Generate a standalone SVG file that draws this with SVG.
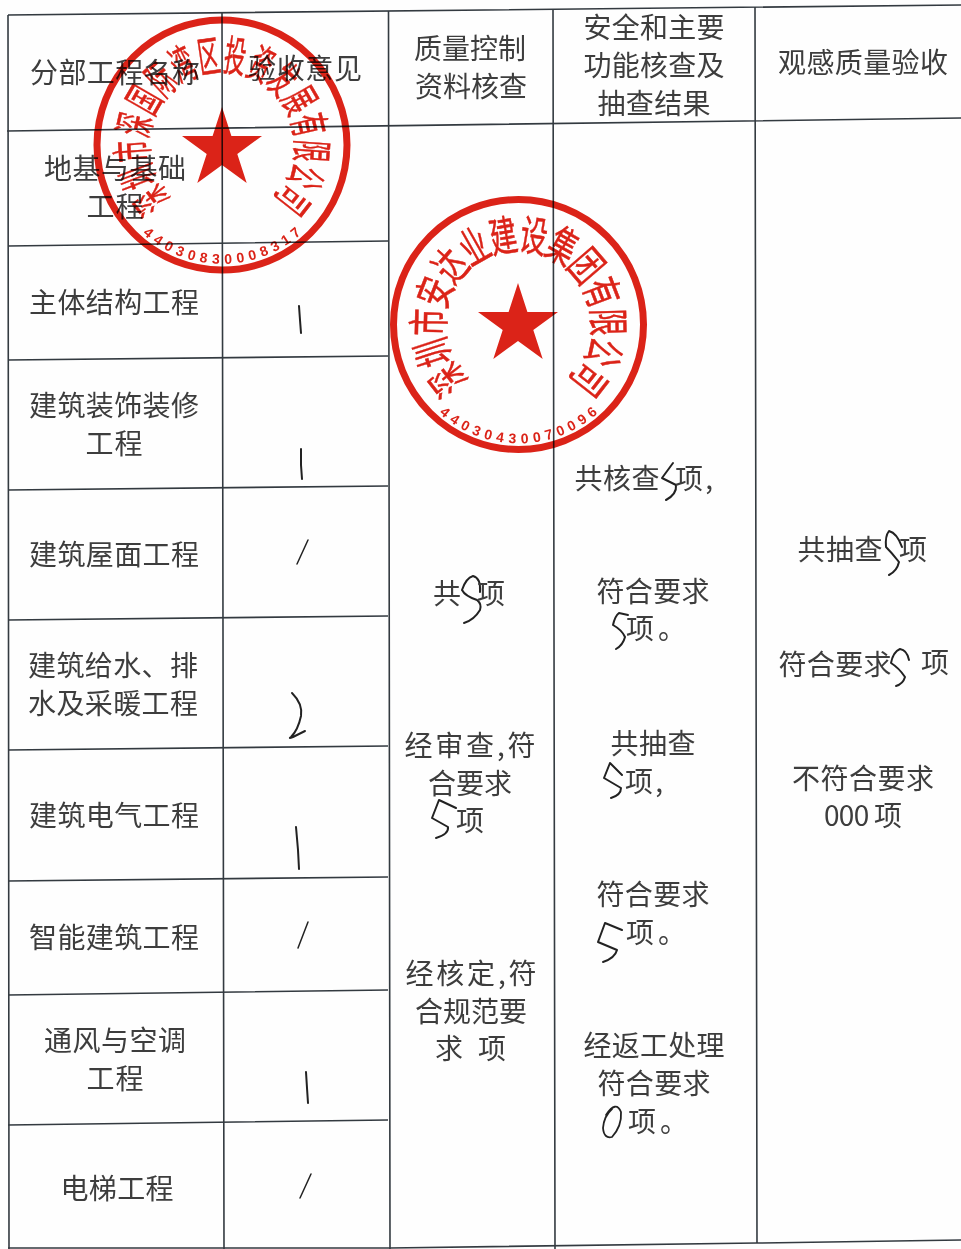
<svg xmlns="http://www.w3.org/2000/svg" width="961" height="1249" viewBox="0 0 961 1249">
<style>
.l{stroke:#333a40;stroke-width:1.6;fill:none}
.t{font-family:"Noto Sans CJK SC","Noto Sans",sans-serif;font-size:28px;fill:#3d3d3d;text-anchor:middle;font-weight:400;transform:translateY(1px)}
.s{text-anchor:start}
.h{stroke:#222;stroke-width:2;fill:none;stroke-linecap:round;stroke-linejoin:round}
.seal{mix-blend-mode:multiply}
.ring{fill:none;stroke:#dc2318;stroke-width:7}
.star{fill:#dc2318}
.g{font-family:"Noto Sans CJK SC",sans-serif;font-size:32px;fill:#dc2318;stroke:#dc2318;stroke-width:.4;text-anchor:middle}
.d{font-family:"Liberation Sans",sans-serif;font-size:14px;font-weight:bold;fill:#dc2318;text-anchor:middle}
</style>
<rect width="961" height="1249" fill="#fefefe"/>
<g id="table-lines">
<path class="l" d="M8 15L961 5M7 131L961 118M8 246L388 241M8 360L388 356M8 490L388 486M8 620L388 616M8 750L388 746M8 881L388 877M8 995L388 990M8 1125L388 1120M8 1248L390 1248L757 1243L961 1240"/>
<path class="l" d="M8 15L9 1249M222 13L224 1249M388.500 11L390 1249M553 10L555 1249M755 7L757 1243"/>
</g>
<g id="header">
<text class="t" x="115" y="82" textLength="170">分部工程名称</text>
<text class="t" x="305" y="78" textLength="114">验收意见</text>
<text class="t" x="470" y="58" textLength="112">质量控制</text>
<text class="t" x="471" y="96" textLength="112">资料核查</text>
<text class="t" x="654" y="37" textLength="141">安全和主要</text>
<text class="t" x="654" y="75" textLength="141">功能核查及</text>
<text class="t" x="654" y="113" textLength="113">抽查结果</text>
<text class="t" x="863" y="72" textLength="170">观感质量验收</text>
</g>
<g id="col-names">
<text class="t" x="115" y="178" textLength="142">地基与基础</text>
<text class="t" x="115" y="216" textLength="57">工程</text>
<text class="t" x="114" y="312" textLength="170">主体结构工程</text>
<text class="t" x="114" y="415" textLength="170">建筑装饰装修</text>
<text class="t" x="114" y="453" textLength="57">工程</text>
<text class="t" x="114" y="564" textLength="170">建筑屋面工程</text>
<text class="t" x="113" y="675" textLength="170">建筑给水、排</text>
<text class="t" x="113" y="713" textLength="170">水及采暖工程</text>
<text class="t" x="114" y="825" textLength="170">建筑电气工程</text>
<text class="t" x="114" y="947" textLength="170">智能建筑工程</text>
<text class="t" x="115" y="1050" textLength="142">通风与空调</text>
<text class="t" x="115" y="1088" textLength="57">工程</text>
<text class="t" x="117" y="1198" textLength="113">电梯工程</text>
</g>
<g id="col-opinion">
<path class="h" d="M299 306L300 320L301 333"/>
<path class="h" d="M301 449L301 465L302 479"/>
<path class="h" style="stroke-width:1.5" d="M308 540L297 564"/>
<path class="h" d="M292 693Q303 704 301 716Q298 730 291 737Q288 739 293 737L305 731"/>
<path class="h" d="M296 827L298 850L299 869"/>
<path class="h" style="stroke-width:1.5" d="M308 922L298 948"/>
<path class="h" d="M306 1072L307 1088L308 1103"/>
<path class="h" style="stroke-width:1.5" d="M311 1174L300 1198"/>
</g>
<g id="col-quality">
<text class="t" x="447" y="603">共</text>
<path class="h" d="M480 592Q481 578 473 576Q466 578 462 590Q465 596 477 600Q482 604 480 610Q474 620 464 623"/>
<text class="t" x="491" y="603">项</text>
<text class="t" x="470" y="755" textLength="131">经审查,符</text>
<text class="t" x="470" y="793" textLength="84">合要求</text>
<path class="h" d="M456 808L439 800L432 818L448 827Q449 834 436 838"/>
<text class="t" x="470" y="830">项</text>
<text class="t" x="471" y="983" textLength="131">经核定,符</text>
<text class="t" x="471" y="1021" textLength="112">合规范要</text>
<text class="t" x="449" y="1058">求</text>
<text class="t" x="492" y="1058">项</text>
</g>
<g id="col-safety">
<text class="t" x="617" y="488" textLength="85">共核查</text>
<path class="h" d="M673 463L662 478L676 485Q677 494 666 500"/>
<text class="t" x="694" y="488" textLength="38">项,</text>
<text class="t" x="653" y="601" textLength="113">符合要求</text>
<path class="h" d="M628 615L619 613Q615 616 613 625Q622 630 625 637Q623 645 616 649"/>
<text class="t s" x="626" y="638">项<tspan dx="4">。</tspan></text>
<text class="t" x="653" y="753" textLength="85">共抽查</text>
<path class="h" d="M622 775L610 763L604 778L621 788Q621 795 611 798"/>
<text class="t" x="644" y="791" textLength="38">项,</text>
<text class="t" x="653" y="904" textLength="113">符合要求</text>
<path class="h" d="M622 930L605 923L598 942L617 950Q615 958 603 962"/>
<text class="t s" x="626" y="942">项<tspan dx="4">。</tspan></text>
<text class="t" x="654" y="1055" textLength="141">经返工处理</text>
<text class="t" x="654" y="1093" textLength="113">符合要求</text>
<path class="h" style="stroke-width:1.8" d="M606 1115Q616 1100 621 1112Q622 1126 612 1137Q604 1139 603 1128Q604 1116 612 1109"/>
<text class="t s" x="628" y="1131">项<tspan dx="4">。</tspan></text>
</g>
<g id="col-appearance">
<text class="t" x="840" y="559" textLength="85">共抽查</text>
<path class="h" d="M902 547Q897 533 889 531Q885 536 886 547Q892 553 899 562Q897 571 889 575"/>
<text class="t" x="913" y="559">项</text>
<text class="t" x="835" y="674" textLength="113">符合要求</text>
<path class="h" d="M909 660Q907 650 900 649Q893 652 891 663Q899 668 905 677Q903 684 896 686"/>
<text class="t" x="935" y="672">项</text>
<text class="t" x="863" y="788" textLength="142">不符合要求</text>
<text class="t" x="863" y="825" textLength="78">000 项</text>
</g>
<g id="seal-a" class="seal">
<circle class="ring" cx="222" cy="145" r="125"/>
<polygon class="star" points="222,107 231.400,136 262,136 237.300,154 246.700,183 222,165 197.300,183 206.700,154 182,136 212.600,136"/>
<g transform="translate(222 145)">
<text class="g" y="12" transform="rotate(-128) translate(0 -90) scale(.68 1.32)">深</text>
<text class="g" y="12" transform="rotate(-111) translate(0 -90) scale(.68 1.32)">圳</text>
<text class="g" y="12" transform="rotate(-94) translate(0 -90) scale(.68 1.32)">市</text>
<text class="g" y="12" transform="rotate(-77) translate(0 -90) scale(.68 1.32)">深</text>
<text class="g" y="12" transform="rotate(-60) translate(0 -90) scale(.68 1.32)">国</text>
<text class="g" y="12" transform="rotate(-43) translate(0 -90) scale(.68 1.32)">际</text>
<text class="g" y="12" transform="rotate(-26) translate(0 -90) scale(.68 1.32)">湾</text>
<text class="g" y="12" transform="rotate(-8.500) translate(0 -90) scale(.68 1.32)">区</text>
<text class="g" y="12" transform="rotate(8.500) translate(0 -90) scale(.68 1.32)">投</text>
<text class="g" y="12" transform="rotate(26) translate(0 -90) scale(.68 1.32)">资</text>
<text class="g" y="12" transform="rotate(43) translate(0 -90) scale(.68 1.32)">发</text>
<text class="g" y="12" transform="rotate(60) translate(0 -90) scale(.68 1.32)">展</text>
<text class="g" y="12" transform="rotate(77) translate(0 -90) scale(.68 1.32)">有</text>
<text class="g" y="12" transform="rotate(94) translate(0 -90) scale(.68 1.32)">限</text>
<text class="g" y="12" transform="rotate(111) translate(0 -90) scale(.68 1.32)">公</text>
<text class="g" y="12" transform="rotate(128) translate(0 -90) scale(.68 1.32)">司</text>
<text class="d" transform="rotate(40) translate(0 119)">4</text>
<text class="d" transform="rotate(33.850) translate(0 119)">4</text>
<text class="d" transform="rotate(27.700) translate(0 119)">0</text>
<text class="d" transform="rotate(21.540) translate(0 119)">3</text>
<text class="d" transform="rotate(15.380) translate(0 119)">0</text>
<text class="d" transform="rotate(9.230) translate(0 119)">8</text>
<text class="d" transform="rotate(3.080) translate(0 119)">3</text>
<text class="d" transform="rotate(-3.080) translate(0 119)">0</text>
<text class="d" transform="rotate(-9.230) translate(0 119)">0</text>
<text class="d" transform="rotate(-15.380) translate(0 119)">0</text>
<text class="d" transform="rotate(-21.540) translate(0 119)">8</text>
<text class="d" transform="rotate(-27.700) translate(0 119)">3</text>
<text class="d" transform="rotate(-33.850) translate(0 119)">1</text>
<text class="d" transform="rotate(-40) translate(0 119)">7</text>
</g>
</g>
<g id="seal-b" class="seal">
<circle class="ring" cx="518.500" cy="324.500" r="125"/>
<polygon class="star" points="518,283 527.400,312 558,312 533.300,330 542.700,359 518,341 493.300,359 502.700,330 478,312 508.600,312"/>
<g transform="translate(518.500 324.500)">
<text class="g" y="12" transform="rotate(-128) translate(0 -90) scale(.85 1.32)">深</text>
<text class="g" y="12" transform="rotate(-108.300) translate(0 -90) scale(.85 1.32)">圳</text>
<text class="g" y="12" transform="rotate(-88.600) translate(0 -90) scale(.85 1.32)">市</text>
<text class="g" y="12" transform="rotate(-68.900) translate(0 -90) scale(.85 1.32)">安</text>
<text class="g" y="12" transform="rotate(-49.200) translate(0 -90) scale(.85 1.32)">达</text>
<text class="g" y="12" transform="rotate(-29.500) translate(0 -90) scale(.85 1.32)">业</text>
<text class="g" y="12" transform="rotate(-9.800) translate(0 -90) scale(.85 1.32)">建</text>
<text class="g" y="12" transform="rotate(9.800) translate(0 -90) scale(.85 1.32)">设</text>
<text class="g" y="12" transform="rotate(29.500) translate(0 -90) scale(.85 1.32)">集</text>
<text class="g" y="12" transform="rotate(49.200) translate(0 -90) scale(.85 1.32)">团</text>
<text class="g" y="12" transform="rotate(68.900) translate(0 -90) scale(.85 1.32)">有</text>
<text class="g" y="12" transform="rotate(88.600) translate(0 -90) scale(.85 1.32)">限</text>
<text class="g" y="12" transform="rotate(108.300) translate(0 -90) scale(.85 1.32)">公</text>
<text class="g" y="12" transform="rotate(128) translate(0 -90) scale(.85 1.32)">司</text>
<text class="d" transform="rotate(40) translate(0 119)">4</text>
<text class="d" transform="rotate(33.850) translate(0 119)">4</text>
<text class="d" transform="rotate(27.700) translate(0 119)">0</text>
<text class="d" transform="rotate(21.540) translate(0 119)">3</text>
<text class="d" transform="rotate(15.380) translate(0 119)">0</text>
<text class="d" transform="rotate(9.230) translate(0 119)">4</text>
<text class="d" transform="rotate(3.080) translate(0 119)">3</text>
<text class="d" transform="rotate(-3.080) translate(0 119)">0</text>
<text class="d" transform="rotate(-9.230) translate(0 119)">0</text>
<text class="d" transform="rotate(-15.380) translate(0 119)">7</text>
<text class="d" transform="rotate(-21.540) translate(0 119)">0</text>
<text class="d" transform="rotate(-27.700) translate(0 119)">0</text>
<text class="d" transform="rotate(-33.850) translate(0 119)">9</text>
<text class="d" transform="rotate(-40) translate(0 119)">6</text>
</g>
</g>
</svg>
